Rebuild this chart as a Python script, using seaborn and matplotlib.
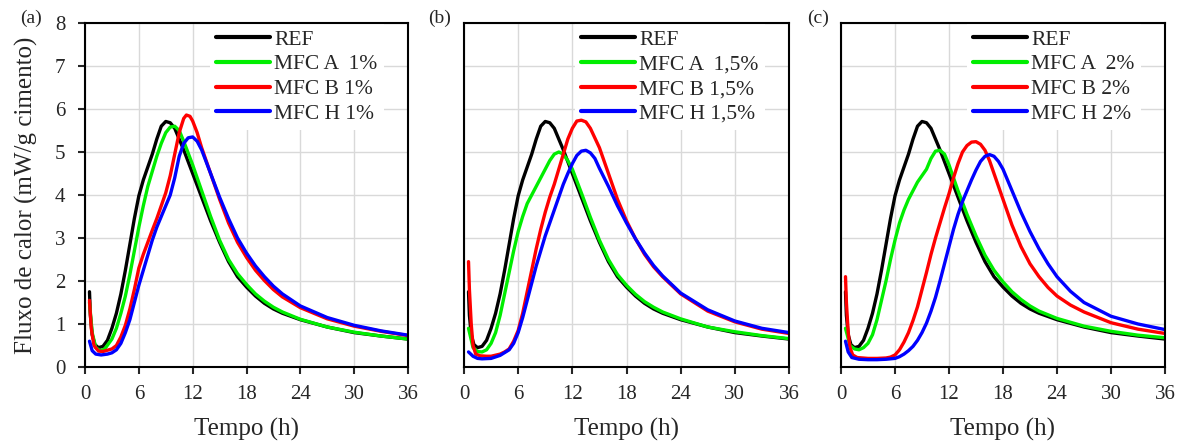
import numpy as np
import pandas as pd
import matplotlib
matplotlib.use("Agg")
import matplotlib.pyplot as plt
import seaborn as sns

# ---------------- data ----------------
t_ref = [0.5, 0.6, 0.8, 1.1, 1.5, 2.0, 2.5, 3.0, 3.5, 4.0, 4.5, 5.0, 5.5, 6.0, 6.5, 7.0, 7.5, 8.0, 8.5,
         9.0, 9.5, 10.0, 10.5, 11.0, 12.0, 13.0, 14.0, 15.0, 16.0, 17.0, 18.0, 19.0, 20.0, 21.0, 22.0,
         24.0, 27.0, 30.0, 33.0, 36.0]
y_ref = [1.75, 1.2, 0.75, 0.52, 0.45, 0.48, 0.62, 0.9, 1.25, 1.7, 2.25, 2.85, 3.45, 3.98, 4.35, 4.65,
         4.95, 5.3, 5.6, 5.71, 5.68, 5.55, 5.3, 5.05, 4.5, 3.95, 3.4, 2.9, 2.45, 2.1, 1.86, 1.65, 1.48,
         1.35, 1.25, 1.1, 0.93, 0.8, 0.72, 0.65]

# (a) 1%
t_a1 = [0.5, 0.8, 1.2, 1.7, 2.2, 3.0, 3.5, 4.0, 4.5, 5.0, 5.5, 6.0, 6.5, 7.0, 7.5, 8.0, 8.5, 9.0, 9.5,
        10.0, 10.5, 11.0, 12.0, 13.0, 14.0, 15.0, 16.0, 17.0, 18.0, 19.0, 20.0, 21.0, 22.0, 24.0,
        27.0, 30.0, 33.0, 36.0]
y_a1 = [1.5, 0.8, 0.45, 0.38, 0.42, 0.65, 0.9, 1.25, 1.65, 2.15, 2.7, 3.25, 3.75, 4.2, 4.55, 4.9,
        5.2, 5.45, 5.58, 5.6, 5.5, 5.25, 4.7, 4.1, 3.5, 2.95, 2.5, 2.17, 1.92, 1.7, 1.53, 1.39, 1.28,
        1.11, 0.93, 0.81, 0.72, 0.65]
t_b1 = [0.5, 0.7, 1.0, 1.5, 2.0, 3.0, 3.5, 4.0, 4.5, 5.0, 5.5, 6.0, 6.5, 7.0, 7.5, 8.0, 8.5, 9.0,
        9.5, 10.0, 10.5, 11.0, 11.3, 11.7, 12.0, 12.5, 13.0, 14.0, 15.0, 16.0, 17.0, 18.0, 19.0,
        20.0, 21.0, 22.0, 24.0, 27.0, 30.0, 33.0, 36.0]
y_b1 = [1.55, 0.9, 0.5, 0.37, 0.36, 0.42, 0.5, 0.7, 0.97, 1.35, 1.8, 2.3, 2.62, 2.9, 3.18, 3.45,
        3.75, 4.05, 4.45, 4.95, 5.45, 5.78, 5.86, 5.83, 5.72, 5.45, 5.1, 4.5, 3.9, 3.35, 2.9, 2.55,
        2.25, 2.01, 1.8, 1.63, 1.38, 1.12, 0.95, 0.83, 0.73]
t_h1 = [0.5, 0.8, 1.2, 1.8, 2.5, 3.0, 3.5, 4.0, 4.5, 5.0, 5.5, 6.0, 6.5, 7.0, 7.5, 8.0, 8.5, 9.0,
        9.5, 10.0, 10.5, 11.0, 11.5, 12.0, 12.5, 13.0, 14.0, 15.0, 16.0, 17.0, 18.0, 19.0, 20.0,
        21.0, 22.0, 24.0, 27.0, 30.0, 33.0, 36.0]
y_h1 = [0.6, 0.38, 0.3, 0.28, 0.3, 0.33, 0.4, 0.55, 0.8, 1.1, 1.5, 1.9, 2.25, 2.6, 2.95, 3.25, 3.5,
        3.75, 4.0, 4.4, 4.9, 5.2, 5.33, 5.35, 5.25, 5.05, 4.5, 3.95, 3.45, 3.0, 2.65, 2.35, 2.1,
        1.88, 1.7, 1.42, 1.15, 0.97, 0.84, 0.74]

# (b) 1,5%
t_a15 = [0.5, 1.0, 1.5, 2.0, 2.5, 3.0, 3.5, 4.0, 4.5, 5.0, 5.5, 6.0, 6.5, 7.0, 7.5, 8.0, 8.5, 9.0,
         9.5, 10.0, 10.5, 11.0, 11.5, 12.0, 13.0, 14.0, 15.0, 16.0, 17.0, 18.0, 19.0, 20.0, 21.0,
         22.0, 24.0, 27.0, 30.0, 33.0, 36.0]
y_a15 = [0.9, 0.45, 0.36, 0.35, 0.4, 0.55, 0.8, 1.2, 1.7, 2.2, 2.7, 3.15, 3.5, 3.8, 4.0, 4.2, 4.4,
         4.6, 4.8, 4.95, 5.0, 4.95, 4.8, 4.6, 4.05, 3.48, 2.95, 2.5, 2.15, 1.9, 1.69, 1.52, 1.39,
         1.28, 1.12, 0.93, 0.82, 0.73, 0.66]
t_b15 = [0.5, 0.6, 0.8, 1.0, 1.3, 1.8, 2.5, 3.0, 4.0, 4.5, 5.0, 5.5, 6.0, 6.5, 7.0, 7.5, 8.0, 8.5,
         9.0, 9.5, 10.0, 10.5, 11.0, 11.5, 12.0, 12.5, 13.0, 13.5, 14.0, 15.0, 16.0, 17.0, 18.0,
         19.0, 20.0, 21.0, 22.0, 24.0, 27.0, 30.0, 33.0, 36.0]
y_b15 = [2.45, 1.8, 1.0, 0.5, 0.3, 0.26, 0.25, 0.25, 0.3, 0.35, 0.42, 0.6, 0.85, 1.25, 1.75, 2.25,
         2.75, 3.2, 3.6, 3.95, 4.25, 4.6, 4.95, 5.3, 5.55, 5.72, 5.74, 5.7, 5.55, 5.1, 4.5, 3.9, 3.4,
         2.98, 2.62, 2.33, 2.1, 1.7, 1.3, 1.05, 0.88, 0.78]
t_h15 = [0.5, 1.0, 1.5, 2.0, 3.0, 4.0, 5.0, 5.5, 6.0, 6.5, 7.0, 7.5, 8.0, 8.5, 9.0, 9.5, 10.0, 10.5,
         11.0, 11.5, 12.0, 12.5, 13.0, 13.5, 14.0, 14.5, 15.0, 16.0, 17.0, 18.0, 19.0, 20.0, 21.0,
         22.0, 24.0, 27.0, 30.0, 33.0, 36.0]
y_h15 = [0.35, 0.25, 0.2, 0.19, 0.2, 0.27, 0.4, 0.55, 0.8, 1.15, 1.55, 1.95, 2.35, 2.7, 3.05, 3.35,
         3.65, 3.95, 4.25, 4.5, 4.73, 4.92, 5.02, 5.04, 4.98, 4.85, 4.62, 4.2, 3.75, 3.35, 2.98, 2.65,
         2.36, 2.12, 1.72, 1.33, 1.07, 0.9, 0.8]

# (c) 2%
t_a2 = [0.5, 1.0, 1.5, 2.0, 2.5, 3.0, 3.5, 4.0, 4.5, 5.0, 5.5, 6.0, 6.5, 7.0, 7.5, 8.0, 8.5, 9.0,
        9.5, 10.0, 10.5, 11.0, 11.5, 12.0, 12.5, 13.0, 14.0, 15.0, 16.0, 17.0, 18.0, 19.0, 20.0,
        21.0, 22.0, 24.0, 27.0, 30.0, 33.0, 36.0]
y_a2 = [0.9, 0.5, 0.42, 0.4, 0.45, 0.55, 0.75, 1.1, 1.55, 2.0, 2.5, 2.95, 3.35, 3.65, 3.9, 4.1, 4.3,
        4.45, 4.6, 4.85, 5.02, 5.04, 4.95, 4.7, 4.4, 4.1, 3.55, 3.05, 2.6, 2.25, 1.98, 1.75, 1.57,
        1.42, 1.3, 1.13, 0.95, 0.83, 0.74, 0.68]
t_b2 = [0.5, 0.6, 0.8, 1.0, 1.3, 1.8, 3.0, 4.0, 5.0, 5.5, 6.0, 6.5, 7.0, 7.5, 8.0, 8.5, 9.0, 9.5,
        10.0, 10.5, 11.0, 11.5, 12.0, 12.5, 13.0, 13.5, 14.0, 14.5, 15.0, 15.5, 16.0, 16.5, 17.0,
        18.0, 19.0, 20.0, 21.0, 22.0, 23.0, 24.0, 25.5, 27.0, 30.0, 33.0, 36.0]
y_b2 = [2.1, 1.5, 0.8, 0.45, 0.28, 0.22, 0.2, 0.2, 0.21, 0.23, 0.28, 0.4, 0.58, 0.8, 1.08, 1.4, 1.8,
        2.2, 2.62, 3.0, 3.35, 3.7, 4.03, 4.4, 4.73, 5.0, 5.15, 5.23, 5.24, 5.18, 5.04, 4.8, 4.5, 3.9,
        3.3, 2.8, 2.4, 2.1, 1.85, 1.65, 1.44, 1.28, 1.03, 0.88, 0.78]
t_h2 = [0.5, 0.8, 1.2, 2.0, 3.0, 4.0, 5.0, 6.0, 6.5, 7.0, 7.5, 8.0, 8.5, 9.0, 9.5, 10.0, 10.5, 11.0,
        11.5, 12.0, 12.5, 13.0, 13.5, 14.0, 14.5, 15.0, 15.5, 16.0, 16.5, 17.0, 17.5, 18.0, 19.0,
        20.0, 21.0, 22.0, 23.0, 24.0, 25.5, 27.0, 30.0, 33.0, 36.0]
y_h2 = [0.6, 0.35, 0.22, 0.18, 0.17, 0.17, 0.18, 0.2, 0.24, 0.3, 0.38, 0.48, 0.62, 0.8, 1.02, 1.3,
        1.62, 2.0, 2.4, 2.8, 3.2, 3.55, 3.85, 4.1, 4.35, 4.58, 4.78, 4.9, 4.94, 4.9, 4.78, 4.6, 4.1,
        3.6, 3.15, 2.75, 2.4, 2.1, 1.76, 1.5, 1.18, 1.0, 0.87]

panel_tags = ["(a)", "(b)", "(c)"]
doses = ["1%", "1,5%", "2%"]
x_ticks = [0, 6, 12, 18, 24, 30, 36]
y_ticks = [0, 1, 2, 3, 4, 5, 6, 7, 8]
colors = ["#000000", "#00ee00", "#ff0000", "#0000ff"]

panels = [
    [(t_ref, y_ref), (t_a1, y_a1), (t_b1, y_b1), (t_h1, y_h1)],
    [(t_ref, y_ref), (t_a15, y_a15), (t_b15, y_b15), (t_h15, y_h15)],
    [(t_ref, y_ref), (t_a2, y_a2), (t_b2, y_b2), (t_h2, y_h2)],
]

# ---------------- style ----------------
sns.set_style("white")
plt.rcParams["font.family"] = ["Liberation Serif", "DejaVu Serif"]

fig = plt.figure(figsize=(11.86, 4.41), dpi=100)
W, H = 1186, 441
lefts = [85, 464, 841]
rights = [408, 789, 1165]
top_px, bot_px = 23, 367
tag_x = [20, 428, 807]

for i in range(3):
    ax = fig.add_axes([lefts[i] / W, 1 - bot_px / H, (rights[i] - lefts[i]) / W,
                       (bot_px - top_px) / H])
    labels = ["REF", "MFC A  " + doses[i], "MFC B " + doses[i], "MFC H " + doses[i]]
    frames = []
    for (tt, yy), lab in zip(panels[i], labels):
        frames.append(pd.DataFrame({"t": tt, "y": yy, "serie": lab}))
    df = pd.concat(frames, ignore_index=True)
    sns.lineplot(data=df, x="t", y="y", hue="serie", hue_order=labels,
                 palette=colors, sort=False, estimator=None, linewidth=2.4,
                 legend=False, ax=ax)
    for ln in ax.get_lines():
        ln.set_solid_capstyle("round")
        ln.set_solid_joinstyle("round")
        ln.set_zorder(3)

    ax.set_xlim(0, 36)
    ax.set_ylim(0, 8)
    ax.set_xticks(x_ticks)
    ax.set_yticks(y_ticks)
    ax.grid(True, color="#d9d9d9", linewidth=1.0)
    ax.set_axisbelow(True)
    for sp in ax.spines.values():
        sp.set_visible(True)
        sp.set_color("black")
        sp.set_linewidth(1.5)
        sp.set_zorder(4)
    ax.tick_params(axis="x", direction="out", length=5, width=1.5, labelsize=15,
                   bottom=True, pad=8)
    if i == 0:
        ax.tick_params(axis="y", direction="out", length=5, width=1.5, labelsize=15,
                       left=True, pad=9)
        ax.set_ylabel("Fluxo de calor (mW/g cimento)", fontsize=18, labelpad=12)
    else:
        ax.tick_params(axis="y", left=False, labelleft=False)
        ax.set_ylabel("")
    ax.set_xlabel("Tempo (h)", fontsize=18, labelpad=10)

    handles = ax.get_lines()[:4]
    ax_w = rights[i] - lefts[i]
    leg = ax.legend(handles, labels, loc="upper right",
                    bbox_to_anchor=((ax_w - 24) / ax_w, 1.0),
                    borderaxespad=0.0, frameon=True, fancybox=False, framealpha=1.0,
                    facecolor="white", edgecolor="none", fontsize=15.5,
                    handlelength=2.5, handletextpad=0.2, labelspacing=0.22, borderpad=0.3)
    leg.set_zorder(1)
    for lh in leg.get_lines():
        lh.set_linewidth(3.0)

    fig.text(tag_x[i] / W, 1 - 18 / H, panel_tags[i], fontsize=14, ha="left", va="center")

fig.savefig("out.png", dpi=100)
